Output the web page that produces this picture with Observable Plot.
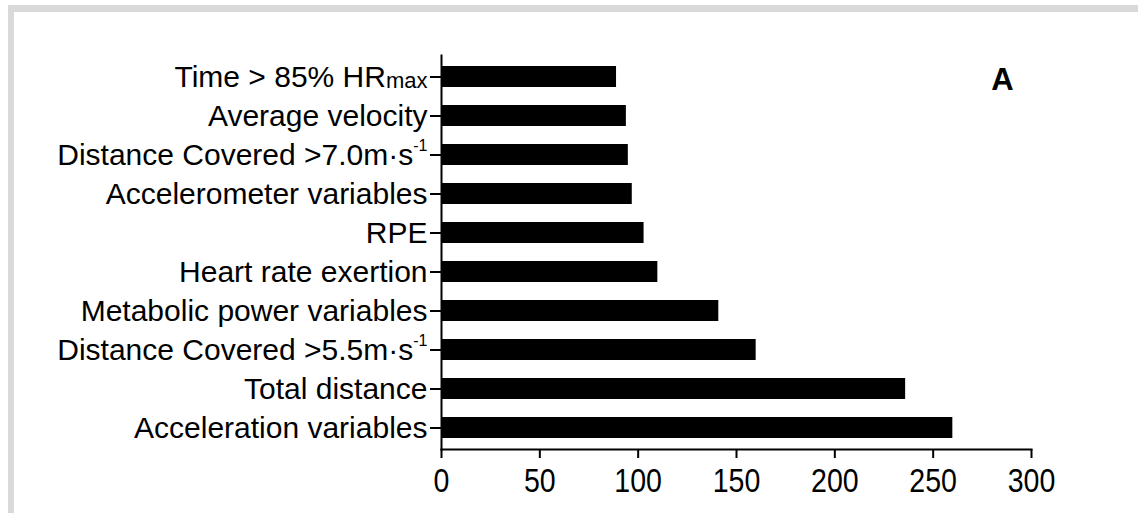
<!DOCTYPE html>
<html>
<head>
<meta charset="utf-8">
<script src="https://cdn.jsdelivr.net/npm/d3@7"></script>
<script src="https://cdn.jsdelivr.net/npm/@observablehq/plot@0.6"></script>
<style>
  html, body { margin: 0; padding: 0; background: white; overflow: hidden; }
  #wrap { position: relative; width: 1138px; height: 513px; overflow: hidden; background: white; }
  #frame { position: absolute; left: 8px; top: 5px; width: 1300px; height: 700px;
           border-left: 6px solid #d9d9d9; border-top: 7px solid #d9d9d9; }
  #chart { position: absolute; left: 0; top: 0; }
</style>
</head>
<body>
<div id="wrap"><div id="frame"></div><div id="chart"></div></div>
<script>
// Categories top to bottom ("^" marks a superscript, "_" a subscript)
const categories = [
  "Time > 85% HR_max",
  "Average velocity",
  "Distance Covered >7.0m·s^-1",
  "Accelerometer variables",
  "RPE",
  "Heart rate exertion",
  "Metabolic power variables",
  "Distance Covered >5.5m·s^-1",
  "Total distance",
  "Acceleration variables"
];
const values = [89, 94, 95, 97, 103, 110, 141, 160, 236, 260];
const xTicks = [0, 50, 100, 150, 200, 250, 300];
const panelLabel = "A";

const data = categories.map((c, i) => ({category: c, value: values[i]}));

const svg = Plot.plot({
  width: 1138,
  height: 513,
  marginLeft: 441,
  marginRight: 107,
  marginTop: 55,
  marginBottom: 64,
  style: {background: "transparent", fontFamily: "'Liberation Sans', Arial, sans-serif", color: "black"},
  x: {domain: [0, 300], label: null},
  y: {domain: categories, label: null, paddingInner: 0.47, paddingOuter: 0.235},
  marks: [
    Plot.barX(data, {x: "value", y: "category", fill: "black"}),
    Plot.frame({anchor: "left", stroke: "black", strokeWidth: 2}),
    Plot.frame({anchor: "bottom", stroke: "black", strokeWidth: 2}),
    Plot.axisX({ticks: xTicks, tickSize: 9, tickPadding: 9, strokeWidth: 2,
      fontSize: 34, label: null}),
    Plot.axisY({tickSize: 11, tickPadding: 3, strokeWidth: 2, fontSize: 30, label: null}),
    Plot.text([panelLabel], {frameAnchor: "top-right", dx: -29, dy: 25, text: d => d,
      fontSize: 31, fontWeight: "bold", textAnchor: "middle", lineAnchor: "middle"})
  ]
});

// Rich formatting of tick labels: superscripts and subscripts
svg.querySelectorAll('g[aria-label="y-axis tick label"] text').forEach(t => {
  const s = t.textContent;
  let m;
  if ((m = s.match(/^(.*)\^(.*)$/))) {
    t.textContent = "";
    t.appendChild(document.createTextNode(m[1]));
    const ts = document.createElementNS("http://www.w3.org/2000/svg", "tspan");
    ts.setAttribute("font-size", "16");
    ts.setAttribute("dy", "-14");
    ts.textContent = m[2];
    t.appendChild(ts);
  } else if ((m = s.match(/^(.*)_(.*)$/))) {
    t.textContent = "";
    t.appendChild(document.createTextNode(m[1]));
    const ts = document.createElementNS("http://www.w3.org/2000/svg", "tspan");
    ts.setAttribute("font-size", "22");
    ts.setAttribute("dy", "1");
    ts.textContent = m[2];
    t.appendChild(ts);
  }
});
// Condensed look of the x tick numbers
svg.querySelectorAll('g[aria-label="x-axis tick label"] text').forEach(t => {
  const tr = t.getAttribute("transform") || "";
  t.setAttribute("transform", tr + " scale(0.84,1)");
});

document.getElementById("chart").appendChild(svg);
</script>
</body>
</html>
